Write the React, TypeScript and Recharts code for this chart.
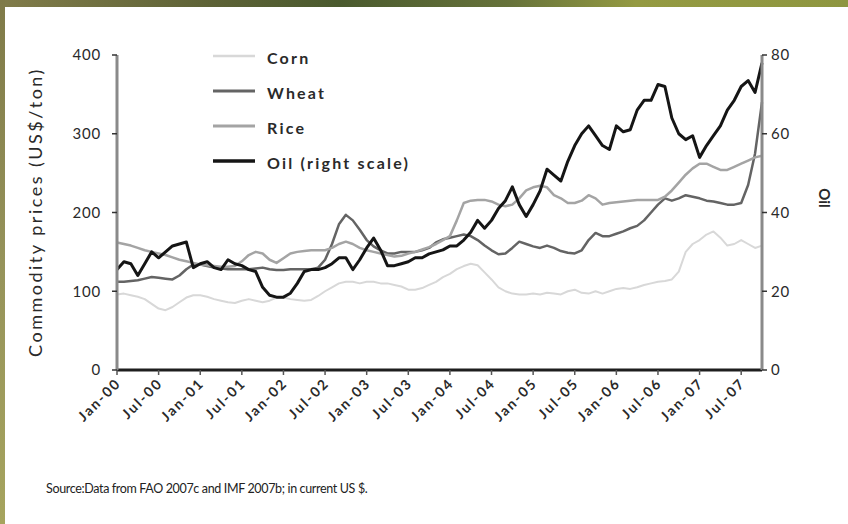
import { LineChart, Line, XAxis, YAxis, Legend } from "recharts"

const FONT = "Lato, 'Open Sans', sans-serif"

const monthNames = ["Jan", "Feb", "Mar", "Apr", "May", "Jun", "Jul", "Aug", "Sep", "Oct", "Nov", "Dec"]
const years = ["00", "01", "02", "03", "04", "05", "06", "07"]
// Jan-00 .. Oct-07, monthly
const months = years.flatMap(y => monthNames.map(m => `${m}-${y}`)).slice(0, 94)

const tickLabels = [
  "Jan-00", "Jul-00", "Jan-01", "Jul-01", "Jan-02", "Jul-02", "Jan-03", "Jul-03",
  "Jan-04", "Jul-04", "Jan-05", "Jul-05", "Jan-06", "Jul-06", "Jan-07", "Jul-07",
]

// US$/ton
const corn = [
  96, 97, 95, 93, 90, 84, 78, 76, 80, 86, 92, 95,
  95, 93, 90, 88, 86, 85, 88, 90, 88, 86, 88, 92,
  92, 90, 89, 88, 89, 94, 100, 105, 110, 112, 112, 110,
  112, 112, 110, 110, 108, 106, 102, 102, 104, 108, 112, 118,
  122, 128, 132, 135, 133, 124, 115, 105, 100, 97, 96, 96,
  97, 96, 98, 97, 96, 100, 102, 98, 97, 100, 97, 100,
  103, 104, 103, 105, 108, 110, 112, 113, 115, 125, 150, 160,
  165, 172, 176, 168, 158, 160, 165, 160, 155, 158,
]

const wheat = [
  112, 112, 113, 114, 116, 118, 117, 116, 115, 120, 128, 134,
  134, 132, 130, 129, 128, 128, 128, 128, 129, 130, 128, 127,
  127, 128, 128, 128, 128, 130, 140, 160, 185, 197, 190, 178,
  165, 157, 152, 148, 148, 150, 150, 150, 152, 155, 162, 166,
  168, 170, 172, 170, 165, 158, 152, 147, 148, 155, 163, 160,
  157, 155, 158, 155, 151, 149, 148, 152, 165, 174, 170, 170,
  173, 176, 180, 183, 190, 200, 210, 218, 215, 218, 222, 220,
  218, 215, 214, 212, 210, 210, 212, 235, 275, 340,
]

const rice = [
  162, 160, 158, 155, 152, 150, 148, 146, 143, 140, 138, 136,
  134, 133, 132, 131, 131, 132, 138, 146, 150, 148, 140, 136,
  142, 148, 150, 151, 152, 152, 152, 155, 160, 163, 160, 155,
  152, 150, 148, 146, 144, 145, 148, 150, 153, 156, 160, 165,
  170, 190, 212, 215, 216, 216, 214, 210, 208, 210, 218, 228,
  232, 234, 232, 222, 218, 212, 212, 215, 222, 218, 210, 212,
  213, 214, 215, 216, 216, 216, 216, 220, 228, 238, 248, 256,
  262, 262, 258, 254, 254, 258, 262, 266, 270, 272,
]

// US$/barrel, right scale
const oil = [
  25.5, 27.5, 27, 24, 27, 30, 28.5, 30, 31.5, 32, 32.5, 26,
  27, 27.5, 26, 25.5, 28, 27, 26.5, 25.5, 25, 21, 19, 18.5,
  18.5, 19.5, 22, 25, 25.5, 25.5, 26, 27, 28.5, 28.5, 25.5, 28,
  31, 33.5, 30.5, 26.5, 26.5, 27, 27.5, 28.5, 28.5, 29.5, 30, 30.5,
  31.5, 31.5, 33, 35, 38, 36, 38, 41, 43, 46.5, 42, 39,
  42, 45.5, 51, 49.5, 48, 53, 57, 60, 62, 59.5, 57, 56,
  62, 60.5, 61, 66, 68.5, 68.5, 72.5, 72, 64, 60, 58.5, 59.5,
  54, 57, 59.5, 62, 66, 68.5, 72, 73.5, 70.5, 78,
]

const data = months.map((month, i) => ({
  month,
  corn: corn[i],
  wheat: wheat[i],
  rice: rice[i],
  oil: oil[i],
}))

const series = [
  { key: "corn", name: "Corn", color: "#d8d8d8", width: 2, axis: "left" },
  { key: "wheat", name: "Wheat", color: "#646464", width: 2.5, axis: "left" },
  { key: "rice", name: "Rice", color: "#a4a4a4", width: 2.5, axis: "left" },
  { key: "oil", name: "Oil (right scale)", color: "#151515", width: 3, axis: "right" },
]

function LegendBox() {
  return (
    <div style={{ fontFamily: FONT, fontWeight: 700, fontSize: 16, letterSpacing: 2.2, color: "#2a2a2a" }}>
      {series.map(s => (
        <div key={s.key} style={{ display: "flex", alignItems: "center", height: 35 }}>
          <svg width={44} height={8} style={{ marginTop: -4 }}>
            <line x1={0} x2={42} y1={4} y2={4} stroke={s.color} strokeWidth={s.width + 0.5} />
          </svg>
          <span style={{ marginLeft: 10 }}>{s.name}</span>
        </div>
      ))}
    </div>
  )
}

function MonthTick({ x, y, payload }: any) {
  return (
    <text
      x={x + 5}
      y={y + 7}
      textAnchor="end"
      transform={`rotate(-45 ${x + 5} ${y + 7})`}
      fontFamily={FONT}
      fontWeight={700}
      fontSize={14}
      letterSpacing={2}
      fill="#2a2a2a"
    >
      {payload.value}
    </text>
  )
}

const yTickStyle = { fontFamily: FONT, fontSize: 15, fill: "#2a2a2a", letterSpacing: 0.8 }

export default function App() {
  return (
    <div style={{ position: "absolute", left: 0, top: 0, width: 848, height: 524, background: "#fff", overflow: "hidden" }}>
      <div
        style={{
          position: "absolute", left: 0, top: 0, width: 848, height: 7,
          background: "linear-gradient(90deg, #817c4a 0%, #5d6236 25%, #4a5a2e 40%, #66723a 60%, #949a42 75%, #8e9640 100%)",
        }}
      />
      <div
        style={{
          position: "absolute", left: 0, top: 0, width: 5, height: 524,
          background: "linear-gradient(180deg, #7f7a48 0%, #96935a 50%, #a6a45e 100%)",
        }}
      />
      <LineChart width={848} height={524} data={data} margin={{ top: 55, right: 26, bottom: 94, left: 57 }}>
        <XAxis
          dataKey="month"
          ticks={tickLabels}
          interval={0}
          tick={<MonthTick />}
          height={60}
          tickSize={5}
          tickMargin={2}
          axisLine={{ stroke: "#1e1e1e", strokeWidth: 3 }}
          tickLine={{ stroke: "#555", strokeWidth: 1.5 }}
        />
        <YAxis
          yAxisId="left"
          domain={[0, 400]}
          ticks={[0, 100, 200, 300, 400]}
          width={60}
          tickSize={5}
          tickMargin={11}
          tick={yTickStyle}
          axisLine={{ stroke: "#8a8a8a", strokeWidth: 3 }}
          tickLine={{ stroke: "#333", strokeWidth: 1.5 }}
          label={{
            content: () => (
              <text
                x={35}
                y={212}
                transform="rotate(-90 35 212)"
                textAnchor="middle"
                dominantBaseline="central"
                fontFamily={FONT}
                fontSize={18}
                letterSpacing={2.5}
                fill="#2a2a2a"
              >
                Commodity prices (US$/ton)
              </text>
            ),
          }}
        />
        <YAxis
          yAxisId="right"
          orientation="right"
          domain={[0, 80]}
          ticks={[0, 20, 40, 60, 80]}
          width={60}
          tickSize={5}
          tickMargin={4}
          tick={yTickStyle}
          axisLine={{ stroke: "#8a8a8a", strokeWidth: 3 }}
          tickLine={{ stroke: "#333", strokeWidth: 1.5 }}
          label={{
            content: () => (
              <text
                x={825}
                y={198}
                transform="rotate(90 825 198)"
                textAnchor="middle"
                dominantBaseline="central"
                fontFamily={FONT}
                fontWeight={700}
                fontSize={15}
                fill="#2a2a2a"
              >
                Oil
              </text>
            ),
          }}
        />
        <Legend
          content={<LegendBox />}
          layout="horizontal"
          align="center"
          verticalAlign="middle"
          wrapperStyle={{ top: 40, left: 213, width: 260 }}
        />
        {series.map(s => (
          <Line
            key={s.key}
            yAxisId={s.axis}
            dataKey={s.key}
            name={s.name}
            stroke={s.color}
            strokeWidth={s.width}
            dot={false}
            type="linear"
            strokeLinejoin="round"
            isAnimationActive={false}
          />
        ))}
      </LineChart>
      <div
        style={{
          position: "absolute", left: 46, top: 481, fontFamily: FONT, fontSize: 12.5,
          letterSpacing: -0.35, color: "#222", whiteSpace: "nowrap",
        }}
      >
        Source:Data from FAO 2007c and IMF 2007b; in current US $.
      </div>
    </div>
  )
}
